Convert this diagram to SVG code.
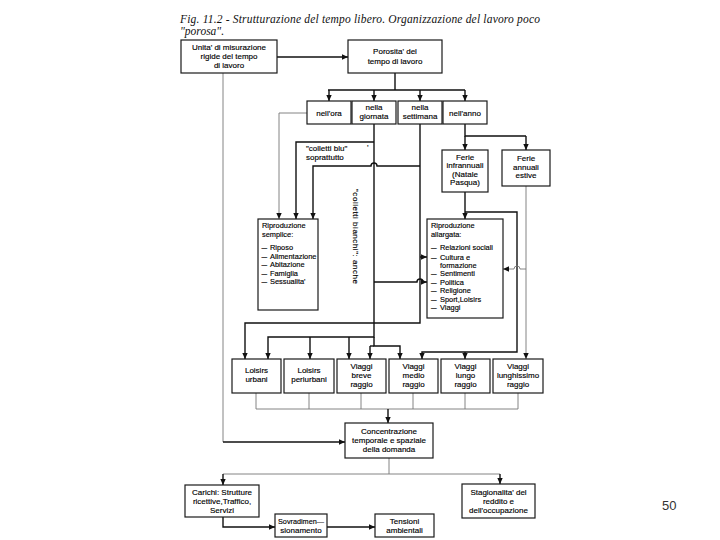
<svg xmlns="http://www.w3.org/2000/svg" width="720" height="540" viewBox="0 0 720 540">
<defs>
<marker id="a" viewBox="0 0 10 10" refX="10" refY="5" markerWidth="6" markerHeight="6" markerUnits="userSpaceOnUse" orient="auto"><path d="M0,0.5 L10,5 L0,9.5 z" fill="#111"/></marker>
</defs>
<style>
.b{fill:#fff;stroke:#1a1a1a;stroke-width:1.2}
.t{font-family:"Liberation Sans",Arial,sans-serif;font-size:8px;fill:#000;stroke:#000;stroke-width:0.15;text-anchor:middle}
.s{font-size:7.4px}
.d{font-size:5.6px}
.l{text-anchor:start}
.c{fill:none;stroke:#111;stroke-width:1.4}
.g{fill:none;stroke:#777;stroke-width:0.9}
.ti{font-family:"Liberation Serif","Times New Roman",serif;font-style:italic;font-size:11.5px;fill:#111}
</style>
<rect width="720" height="540" fill="#fff"/>
<text class="ti" x="180" y="23" textLength="360" lengthAdjust="spacing">Fig. 11.2 - Strutturazione del tempo libero. Organizzazione del lavoro poco</text>
<text class="ti" x="180" y="35">"porosa".</text>
<text x="662" y="510" font-family="Liberation Sans,Arial,sans-serif" font-size="13" fill="#333">50</text>

<g id="connectors">
<path class="c" d="M277,57 H348" marker-end="url(#a)"/>
<path class="c" d="M395,73 V90 M328,90 H465"/>
<path class="c" d="M329,90 V101" marker-end="url(#a)"/>
<path class="c" d="M374,90 V101" marker-end="url(#a)"/>
<path class="c" d="M420,90 V101" marker-end="url(#a)"/>
<path class="c" d="M465,90 V101" marker-end="url(#a)"/>
<path class="g" d="M307,113 H279 V219" marker-end="url(#a)"/>
<path class="c" d="M374,142 H296 V219" marker-end="url(#a)"/>
<path class="c" d="M420,166 H377 A3,3 0 0 0 371,166 H313 V219" marker-end="url(#a)"/>
<path class="c" d="M374,124 V337 H268 V359" marker-end="url(#a)"/>
<path class="c" d="M310,337 V359" marker-end="url(#a)"/>
<path class="c" d="M349,337 V359" marker-end="url(#a)"/>
<path class="c" d="M374,337 V346 H400 V359" marker-end="url(#a)"/>
<path class="c" d="M370,346 V359" marker-end="url(#a)"/>
<path class="c" d="M370,346 H374"/>
<path class="c" d="M420,124 V323 H245 V359" marker-end="url(#a)"/>
<path class="c" d="M420,257 H427" marker-end="url(#a)"/>
<path class="c" d="M374,282 H417 A3,3 0 0 1 423,282 H427" marker-end="url(#a)"/>
<path class="c" d="M465,124 V136 H526"/>
<path class="c" d="M465,136 V150" marker-end="url(#a)"/>
<path class="c" d="M526,136 V150" marker-end="url(#a)"/>
<path class="c" d="M465,192 V219" marker-end="url(#a)"/>
<path class="c" d="M465,212 H517 V352 H422 V359" marker-end="url(#a)"/>
<path class="c" d="M465,352 V359" marker-end="url(#a)"/>
<path class="g" d="M526,186 V359" marker-end="url(#a)"/>
<path class="g" d="M526,269 H520 A3,3 0 0 0 514,269 H503" marker-end="url(#a)"/>
<path class="g" d="M256,393 V409 M309,393 V409 M361,393 V409 M413,393 V409 M465,393 V409 M518,393 V409 M256,409 H518"/>
<path class="c" d="M388,409 V423" marker-end="url(#a)"/>
<path class="g" d="M223,73 V442"/>
<path class="c" d="M223,442 H345" marker-end="url(#a)"/>
<path class="g" d="M389,458 V474 M223,474 H500"/>
<path class="c" d="M223,474 V485" marker-end="url(#a)"/>
<path class="c" d="M500,474 V484" marker-end="url(#a)"/>
<path class="c" d="M223,517 V527 H275" marker-end="url(#a)"/>
<path class="c" d="M327,527 H375" marker-end="url(#a)"/>
</g>

<g id="n_unita"><rect class="b" x="181" y="40" width="96" height="33"/>
<text class="t" x="229" y="50">Unita' di misurazione</text><text class="t" x="229" y="59">rigide del tempo</text><text class="t" x="229" y="68">di lavoro</text></g>
<g id="n_porosita"><rect class="b" x="348" y="40" width="94" height="33"/>
<text class="t" x="395" y="54">Porosita' del</text><text class="t" x="395" y="63.5">tempo di lavoro</text></g>
<g id="n_ora"><rect class="b" x="307" y="101" width="44" height="23"/><text class="t" x="329" y="115.5">nell'ora</text></g>
<g id="n_giornata"><rect class="b" x="352" y="101" width="44" height="23"/><text class="t" x="374" y="110">nella</text><text class="t" x="374" y="119">giornata</text></g>
<g id="n_settimana"><rect class="b" x="398" y="101" width="44" height="23"/><text class="t" x="420" y="110">nella</text><text class="t" x="420" y="119">settimana</text></g>
<g id="n_anno"><rect class="b" x="443" y="101" width="44" height="23"/><text class="t" x="465" y="115.5">nell'anno</text></g>
<g id="l_blu"><text class="t l" x="306" y="151">"colletti blu"</text><text class="t l" x="367" y="150">'</text><text class="t l" x="306" y="160">soprattutto</text></g>
<g id="l_bianchi"><text class="t l" transform="translate(353,189) rotate(90)" textLength="95" lengthAdjust="spacing">"colletti bianchi":  anche</text></g>
<g id="n_infra"><rect class="b" x="442" y="150" width="46" height="42"/>
<text class="t" x="465" y="159.5">Ferie</text><text class="t" x="465" y="168">infrannuali</text><text class="t" x="465" y="176.5">(Natale</text><text class="t" x="465" y="185">Pasqua)</text></g>
<g id="n_estive"><rect class="b" x="502" y="150" width="48" height="36"/>
<text class="t" x="526" y="161">Ferie</text><text class="t" x="526" y="169.5">annuali</text><text class="t" x="526" y="178">estive</text></g>
<g id="n_semplice"><rect class="b" x="258" y="219" width="60" height="91"/>
<text class="t s l" x="262" y="228">Riproduzione</text><text class="t s l" x="262" y="236.5">semplice:</text>
<text class="t d l" x="261.5" y="250">—</text><text class="t s l" x="270" y="250">Riposo</text>
<text class="t d l" x="261.5" y="258.5">—</text><text class="t s l" x="270" y="258.5">Alimentazione</text>
<text class="t d l" x="261.5" y="267">—</text><text class="t s l" x="270" y="267">Abitazione</text>
<text class="t d l" x="261.5" y="275.5">—</text><text class="t s l" x="270" y="275.5">Famiglia</text>
<text class="t d l" x="261.5" y="284">—</text><text class="t s l" x="270" y="284">Sessualita'</text></g>
<g id="n_allargata"><rect class="b" x="427" y="219" width="76" height="99"/>
<text class="t s l" x="431" y="228">Riproduzione</text><text class="t s l" x="431" y="236.5">allargata:</text>
<text class="t d l" x="431" y="250">—</text><text class="t s l" x="440" y="250">Relazioni sociali</text>
<text class="t d l" x="431" y="259.5">—</text><text class="t s l" x="440" y="259.5">Cultura e</text>
<text class="t s l" x="440" y="267.5">formazione</text>
<text class="t d l" x="431" y="276">—</text><text class="t s l" x="440" y="276">Sentimenti</text>
<text class="t d l" x="431" y="284.5">—</text><text class="t s l" x="440" y="284.5">Politica</text>
<text class="t d l" x="431" y="293">—</text><text class="t s l" x="440" y="293">Religione</text>
<text class="t d l" x="431" y="301.5">—</text><text class="t s l" x="440" y="301.5">Sport,Loisirs</text>
<text class="t d l" x="431" y="310">—</text><text class="t s l" x="440" y="310">Viaggi</text></g>
<g id="n_lurb"><rect class="b" x="232" y="359" width="49" height="34"/><text class="t" x="256.5" y="373">Loisirs</text><text class="t" x="256.5" y="382">urbani</text></g>
<g id="n_lper"><rect class="b" x="284" y="359" width="50" height="34"/><text class="t" x="309" y="373">Loisirs</text><text class="t" x="309" y="382">periurbani</text></g>
<g id="n_vbreve"><rect class="b" x="337" y="359" width="49" height="34"/><text class="t" x="361.5" y="369">Viaggi</text><text class="t" x="361.5" y="378">breve</text><text class="t" x="361.5" y="387">raggio</text></g>
<g id="n_vmedio"><rect class="b" x="389" y="359" width="49" height="34"/><text class="t" x="413.5" y="369">Viaggi</text><text class="t" x="413.5" y="378">medio</text><text class="t" x="413.5" y="387">raggio</text></g>
<g id="n_vlungo"><rect class="b" x="441" y="359" width="49" height="34"/><text class="t" x="465.5" y="369">Viaggi</text><text class="t" x="465.5" y="378">lungo</text><text class="t" x="465.5" y="387">raggio</text></g>
<g id="n_vlunghissimo"><rect class="b" x="493" y="359" width="50" height="34"/><text class="t" x="518" y="369">Viaggi</text><text class="t" x="518" y="378">lunghissimo</text><text class="t" x="518" y="387">raggio</text></g>
<g id="n_conc"><rect class="b" x="345" y="423" width="88" height="35"/>
<text class="t" x="389" y="434">Concentrazione</text><text class="t" x="389" y="443">temporale e spaziale</text><text class="t" x="389" y="452">della domanda</text></g>
<g id="n_carichi"><rect class="b" x="185" y="485" width="74" height="32"/>
<text class="t" x="222" y="495">Carichi:  Strutture</text><text class="t" x="222" y="504">ricettive,Traffico,</text><text class="t" x="222" y="513">Servizi</text></g>
<g id="n_stag"><rect class="b" x="462" y="484" width="73" height="34"/>
<text class="t" x="498.5" y="495">Stagionalita' del</text><text class="t" x="498.5" y="504">reddito e</text><text class="t" x="498.5" y="513">dell'occupazione</text></g>
<g id="n_sovr"><rect class="b" x="275" y="514" width="52" height="23"/><text class="t" x="301" y="523.5" textLength="46" lengthAdjust="spacingAndGlyphs">Sovradimen—</text><text class="t" x="301" y="532.5">sionamento</text></g>
<g id="n_tens"><rect class="b" x="375" y="514" width="59" height="23"/><text class="t" x="404.5" y="523.5">Tensioni</text><text class="t" x="404.5" y="532.5">ambientali</text></g>
</svg>
